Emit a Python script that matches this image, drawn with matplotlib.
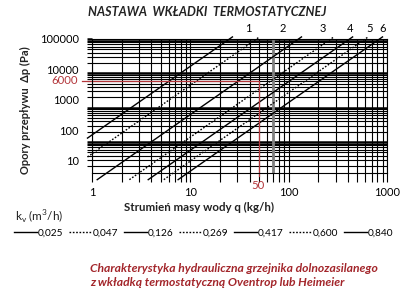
import matplotlib
matplotlib.use("Agg")
import matplotlib.pyplot as plt
from matplotlib.ticker import LogLocator, NullFormatter, FixedLocator

plt.rcParams['font.family'] = ['Lato', 'DejaVu Sans']

# kv values of the insert settings (legend) and line style of each curve
kv_labels = ["0,025", "0,047", "0,126", "0,269", "0,417", "0,600", "0,840"]
kv_styles = ["-", ":", "-", ":", "-", ":", "-"]

# end points of each characteristic line
q_start = [0.9, 0.9, 1.13, 2.40, 3.73, 5.37, 7.51]
dp_start = [130, 36.7, 8, 8, 8, 8, 8]
q_end = [26.8, 50.4, 135, 288, 447, 643, 900]
dp_end = [1.15e5] * 7

# setting numbers printed above the chart
setting_labels = ["1", "2", "3", "4", "5", "6"]
setting_q = [38.6, 87.6, 224, 420, 658, 912]

# y tick labels (printed on their own scale in the original)
y_tick_vals = [10, 100, 1000, 10000, 100000]

# marked example point
q_mark = 50
dp_mark = 6000
q_grey = 70

red = '#b3363b'
caption_red = '#a3262b'

fig = plt.figure(figsize=(4.07, 3.0), dpi=100)
ax = fig.add_axes([92/407, 1-173/300, 295/407, 134/300])
ax.set_xscale('log')
ax.set_yscale('log')
ax.set_xlim(1, 1000)
ax.set_ylim(12.5, 1e5)

# grid
ax.xaxis.set_minor_locator(LogLocator(subs=range(2, 10)))
ax.yaxis.set_minor_locator(LogLocator(subs=range(2, 10)))
ax.grid(which='major', axis='y', color='black', lw=1.8)
ax.grid(which='minor', axis='y', color='black', lw=0.8)
ax.grid(which='both', axis='x', color='black', lw=0.8)
ax.set_axisbelow(True)
for s in ax.spines.values():
    s.set_linewidth(0.8)

ax.tick_params(axis='y', which='major', direction='out', length=3.6, width=1.8, labelleft=False)
ax.tick_params(axis='y', which='minor', direction='out', length=3.6, width=0.8, labelleft=False)
ax.tick_params(axis='x', which='both', direction='out', length=6.5, width=0.8, pad=3.5)
ax.xaxis.set_minor_formatter(NullFormatter())
ax.set_xticks([1, 10, 100, 1000])
ax.set_xticklabels(["1", "10", "100", "1000"], fontsize=8)

# grey vertical line
ax.axvline(q_grey, color='#808080', lw=2)

# characteristic lines
handles = []
for i in range(len(kv_labels)):
    ls = kv_styles[i]
    h, = ax.plot([q_start[i], q_end[i]], [dp_start[i], dp_end[i]], color='black',
                 lw=1.0, ls=ls, clip_on=False, label=kv_labels[i],
                 dashes=(1.2, 1.2) if ls == ':' else (None, None))
    handles.append(h)

# red example lines
ax.plot([0.79, q_mark, q_mark], [dp_mark, dp_mark, 10.5], color=red, lw=0.9, clip_on=False)
ax.annotate(str(dp_mark), xy=(1, dp_mark), xytext=(-10, 0), textcoords='offset points',
            ha='right', va='center', color=red, fontsize=8.2)
ax.annotate(str(q_mark), xy=(q_mark, 12.5), xytext=(-1, -9), textcoords='offset points',
            ha='center', va='center', color=red, fontsize=8.2)

# setting numbers
for lab, q in zip(setting_labels, setting_q):
    ax.annotate(lab, xy=(q, 1e5), xytext=(0, 7.3), textcoords='offset points',
                ha='center', va='center', fontsize=8)

# y tick labels on a separate scale, as in the original
ax2 = ax.twinx()
ax2.set_yscale('log')
ax2.set_ylim(4.03, 1e5)
ax2.yaxis.set_ticks_position('left')
ax2.yaxis.set_major_locator(FixedLocator(y_tick_vals))
ax2.yaxis.set_minor_locator(FixedLocator([]))
ax2.set_yticklabels([str(v) for v in y_tick_vals])
ax2.tick_params(axis='y', length=0, pad=9.5, labelsize=8)
for s in ax2.spines.values():
    s.set_visible(False)

# texts
fig.text(88/407, 1-12/300, "NASTAWA  WKŁADKI  TERMOSTATYCZNEJ", ha='left', va='center',
         fontsize=9, fontweight='bold', fontstyle='italic', color='#222222')
fig.text(25/407, 1-110/300, "Opory przepływu  Δp (Pa)", rotation=90, ha='center', va='center',
         fontsize=8, fontweight='bold', color='#222222')
fig.text(199/407, 1-207/300, "Strumień masy wody q (kg/h)", ha='center', va='center',
         fontsize=8.3, fontweight='bold', color='#222222')
fig.text(15/407, 1-217/300, "k$_\\mathregular{v}$ (m$^\\mathregular{3}$/h)", ha='left', va='center',
         fontsize=8.5, color='#222222')

fig.legend(handles, kv_labels, loc='center left', bbox_to_anchor=(14/407, 1-233/300),
           ncol=7, frameon=False, fontsize=7.3, handlelength=2.3, handletextpad=0.05,
           columnspacing=0.55, borderpad=0, borderaxespad=0)

fig.text(90/407, 1-269/300, "Charakterystyka hydrauliczna grzejnika dolnozasilanego",
         ha='left', va='center', fontsize=8.7, fontweight='bold', fontstyle='italic',
         color=caption_red)
fig.text(90/407, 1-283/300, "z wkładką termostatyczną Oventrop lub Heimeier",
         ha='left', va='center', fontsize=8.7, fontweight='bold', fontstyle='italic',
         color=caption_red)

fig.savefig("out.png", dpi=100)
